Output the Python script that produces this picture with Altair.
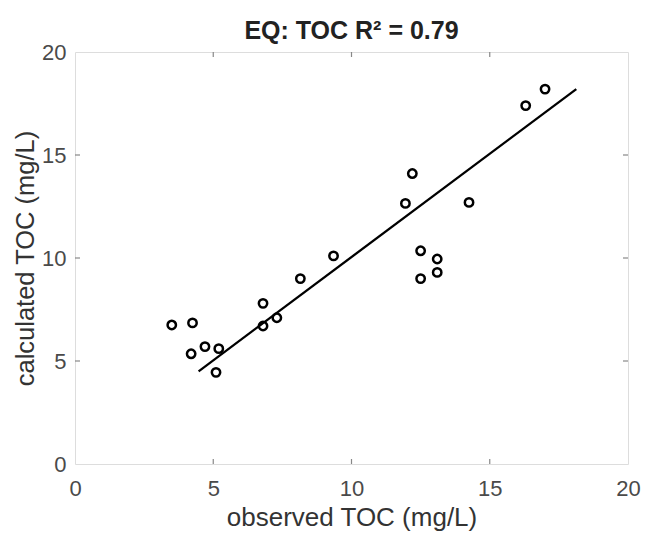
import altair as alt
import pandas as pd

# observed vs calculated TOC (mg/L)
obs = [3.5, 4.25, 4.2, 4.7, 5.2, 5.1, 6.8, 6.8, 7.3, 8.15, 9.35, 11.95, 12.2, 14.25, 12.5, 13.1, 13.1, 12.5, 16.3, 17.0]
calc = [6.75, 6.85, 5.35, 5.7, 5.6, 4.45, 7.8, 6.7, 7.1, 9.0, 10.1, 12.65, 14.1, 12.7, 10.35, 9.95, 9.3, 9.0, 17.4, 18.2]

# fitted line end points
fit_x = [4.47, 18.13]
fit_y = [4.5, 18.2]

tick_vals = [0, 5, 10, 15, 20]
inner_ticks = [5, 10, 15]

W, H = 553, 412
FONT = "Liberation Sans"

pts = pd.DataFrame({"obs": obs, "calc": calc})
fit = pd.DataFrame({"obs": fit_x, "calc": fit_y})
tk = pd.DataFrame({"v": inner_ticks})

xs = alt.Scale(domain=[0, 20], nice=False)
ys = alt.Scale(domain=[0, 20], nice=False)

xaxis = alt.Axis(values=tick_vals, title="observed TOC (mg/L)", grid=False, domain=False,
                 ticks=False, labelPadding=14, titlePadding=5, labelFontSize=22,
                 titleFontSize=26, labelColor="#4a4a4a", titleColor="#333333",
                 labelFont=FONT, titleFont=FONT, titleFontWeight="normal", labelFlush=False)
yaxis = alt.Axis(values=tick_vals, title="calculated TOC (mg/L)", grid=False, domain=False,
                 ticks=False, labelPadding=9, titlePadding=3, labelFontSize=22,
                 titleFontSize=25.5, labelColor="#4a4a4a", titleColor="#333333",
                 labelFont=FONT, titleFont=FONT, titleFontWeight="normal", labelFlush=False)

points = alt.Chart(pts).mark_point(shape="circle", filled=False, color="black",
                                   strokeWidth=2.5, size=70, opacity=1).encode(
    x=alt.X("obs:Q", scale=xs, axis=xaxis),
    y=alt.Y("calc:Q", scale=ys, axis=yaxis),
)

line = alt.Chart(fit).mark_line(color="black", strokeWidth=2.3).encode(
    x=alt.X("obs:Q", scale=xs),
    y=alt.Y("calc:Q", scale=ys),
)

tcol = "#888888"
bottom = alt.Chart(tk).mark_rule(color=tcol, strokeWidth=1.2).encode(
    x=alt.X("v:Q", scale=xs), y=alt.value(H), y2=alt.value(H - 5))
top = alt.Chart(tk).mark_rule(color=tcol, strokeWidth=1.2).encode(
    x=alt.X("v:Q", scale=xs), y=alt.value(0), y2=alt.value(5))
left = alt.Chart(tk).mark_rule(color=tcol, strokeWidth=1.2).encode(
    y=alt.Y("v:Q", scale=ys), x=alt.value(0), x2=alt.value(5))
right = alt.Chart(tk).mark_rule(color=tcol, strokeWidth=1.2).encode(
    y=alt.Y("v:Q", scale=ys), x=alt.value(W), x2=alt.value(W - 5))

chart = alt.layer(bottom, top, left, right, line, points).properties(
    width=W, height=H,
    title=alt.TitleParams("EQ: TOC R² = 0.79", font=FONT, fontSize=25, fontWeight="bold",
                          color="#222222", anchor="middle", offset=0, dy=3),
    autosize=alt.AutoSizeParams(type="none"),
    padding={"left": 67, "top": 44, "right": 13, "bottom": 68},
).configure_view(stroke="#9a9a9a", strokeWidth=1.6).configure(background="white")

chart.save("out.html", embed_options={"renderer": "svg", "actions": False})
